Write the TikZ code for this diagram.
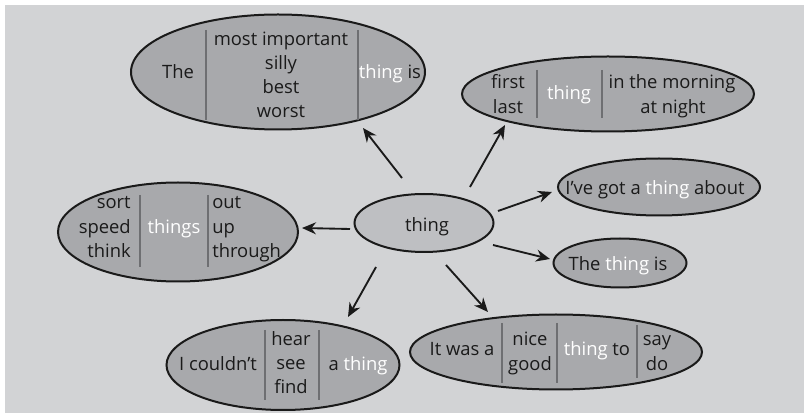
\documentclass[tikz,border=0pt]{standalone}
\usepackage{fontspec}
\setmainfont{Open Sans}
\usetikzlibrary{shapes.geometric,arrows.meta}
\definecolor{bggrey}{HTML}{D2D3D5}
\definecolor{bubble}{HTML}{A8A9AC}
\definecolor{centrefill}{HTML}{BEBFC2}
\definecolor{ink}{HTML}{1A1A1A}
\definecolor{rule}{HTML}{6E6F72}
\tikzset{
  bubblebox/.style={ellipse, draw=ink, line width=1.5pt, fill=bubble, inner sep=0pt},
  centrebox/.style={ellipse, draw=ink, line width=1.5pt, fill=centrefill, inner sep=0pt},
  word/.style={inner sep=0pt, text=ink, font=\fontsize{13.8}{16}\selectfont, text height=1.5ex, text depth=.25ex},
  wordr/.style={word, anchor=east},
  wordl/.style={word, anchor=west},
  divider/.style={draw=rule, line width=1.5pt},
  arr/.style={draw=ink, line width=1.4pt, -{Stealth[length=10.5pt,width=9pt]}}
}
\newcommand{\wt}[1]{\textcolor{white}{#1}}
\begin{document}
\begin{tikzpicture}[x=0.75pt,y=-0.75pt]
\useasboundingbox (0,0) rectangle (804,413);
\fill[white] (0,0) rectangle (804,413);
\fill[bggrey] (5,5) rectangle (804,413);

% bubbles
\node[bubblebox, minimum width=220.5pt, minimum height=86.25pt] (tl) at (278,72) {};
\node[bubblebox, minimum width=219pt, minimum height=56.25pt] (tr) at (608,94) {};
\node[bubblebox, minimum width=180pt, minimum height=74.25pt] (lf) at (178,232) {};
\node[centrebox, minimum width=104.25pt, minimum height=43.5pt] (c) at (424,223) {};
\node[bubblebox, minimum width=151.5pt, minimum height=42.75pt] (ive) at (659,187) {};
\node[bubblebox, minimum width=99.75pt, minimum height=36.75pt] (tti) at (620,263) {};
\node[bubblebox, minimum width=174.75pt, minimum height=67.5pt] (cd) at (283,365) {};
\node[bubblebox, minimum width=219pt, minimum height=56.25pt] (iw) at (556,352) {};

% top-left bubble
\node[word] (tl1) at (178,74) {The};
\draw[divider] (206,30) -- (206,120);
\node[word] (tl2) at (281,41) {most important};
\node[word] (tl3) at (281,65) {silly};
\node[word] (tl4) at (281,89) {best};
\node[word] (tl5) at (281,113) {worst};
\draw[divider] (358,30) -- (358,120);
\node[word] (tl6) at (390,74) {\wt{thing} is};

% top-right bubble
\node[word] (tr1) at (508,84) {first};
\node[word] (tr2) at (508,109) {last};
\draw[divider] (537,70) -- (537,118);
\node[word] (tr3) at (569,95) {\wt{thing}};
\draw[divider] (602,70) -- (602,118);
\node[word] (tr4) at (672,84) {in the morning};
\node[word] (tr5) at (673,109) {at night};

% left bubble
\node[wordr] (lf1) at (131,204) {sort};
\node[wordr] (lf2) at (131,229) {speed};
\node[wordr] (lf3) at (131,253) {think};
\draw[divider] (140,195) -- (140,267);
\node[word] (lf4) at (174,229) {\wt{things}};
\draw[divider] (208,195) -- (208,267);
\node[wordl] (lf5) at (212,204) {out};
\node[wordl] (lf6) at (212,229) {up};
\node[wordl] (lf7) at (212,253) {through};

% centre
\node[word] (ct) at (427,227) {thing};

% small bubbles
\node[word] (ivet) at (655,190) {I’ve got a \wt{thing} about};
\node[word] (ttit) at (618,266) {The \wt{thing} is};

% couldn't bubble
\node[word] (cd1) at (218,366) {I couldn’t};
\draw[divider] (265,330) -- (265,400);
\node[word] (cd2) at (291,341) {hear};
\node[word] (cd3) at (291,365) {see};
\node[word] (cd4) at (291,389) {find};
\draw[divider] (319,330) -- (319,400);
\node[word] (cd5) at (358,366) {a \wt{thing}};

% it was a bubble
\node[word] (iw1) at (462,351) {It was a};
\draw[divider] (502,323) -- (502,383);
\node[word] (iw2) at (530,341) {nice};
\node[word] (iw3) at (530,366) {good};
\draw[divider] (557,323) -- (557,383);
\node[word] (iw4) at (597,351) {\wt{thing} to};
\draw[divider] (637,325) -- (637,378);
\node[word] (iw5) at (657,341) {say};
\node[word] (iw6) at (657,366) {do};

% arrows
\draw[arr] ([shift={(-22,-45)}]c.center) -- ([shift={(85,56)}]tl.center);
\draw[arr] ([shift={(46,-36)}]c.center) -- ([shift={(-103,31)}]tr.center);
\draw[arr] ([shift={(-74,6)}]c.center) -- ([shift={(124,-4)}]lf.center);
\draw[arr] ([shift={(74,-12)}]c.center) -- ([shift={(-107,5)}]ive.center);
\draw[arr] ([shift={(69,22)}]c.center) -- ([shift={(-70,-4)}]tti.center);
\draw[arr] ([shift={(-48,44)}]c.center) -- ([shift={(65,-48)}]cd.center);
\draw[arr] ([shift={(22,42)}]c.center) -- ([shift={(-68,-40)}]iw.center);
\end{tikzpicture}
\end{document}
